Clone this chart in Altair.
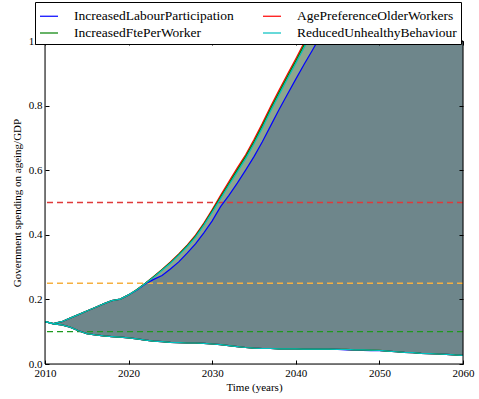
import altair as alt
import pandas as pd

YEARS = list(range(2010, 2061))

SERIES = ["IncreasedLabourParticipation", "IncreasedFtePerWorker",
          "AgePreferenceOlderWorkers", "ReducedUnhealthyBehaviour"]
SERIES_COLORS = ["#0000ff", "#008000", "#ff0000", "#00bfbf"]
DRAW_ORDER = ["IncreasedLabourParticipation", "AgePreferenceOlderWorkers",
              "IncreasedFtePerWorker", "ReducedUnhealthyBehaviour"]

UPPER_ILP = [0.131, 0.125, 0.131, 0.142, 0.153, 0.164, 0.175, 0.186, 0.196, 0.201,
             0.214, 0.229, 0.248, 0.262, 0.274, 0.294, 0.316, 0.343, 0.372, 0.406,
             0.443, 0.487, 0.522, 0.560, 0.600, 0.642, 0.688, 0.738, 0.788, 0.835,
             0.882, 0.928, 0.972, 1.018, 1.065, 1.110, 1.160, 1.210, 1.260, 1.310,
             1.360, 1.410, 1.460, 1.520, 1.580, 1.640, 1.700, 1.760, 1.820, 1.880,
             1.940]
UPPER_APOW = [0.131, 0.125, 0.131, 0.142, 0.153, 0.164, 0.175, 0.186, 0.196, 0.201,
              0.214, 0.231, 0.250, 0.271, 0.293, 0.316, 0.341, 0.368, 0.399, 0.436,
              0.478, 0.522, 0.565, 0.607, 0.648, 0.695, 0.745, 0.798, 0.848, 0.897,
              0.945, 0.995, 1.045, 1.100, 1.150, 1.200, 1.260, 1.320, 1.380, 1.440,
              1.500, 1.560, 1.620, 1.680, 1.750, 1.820, 1.890, 1.960, 2.030, 2.100,
              2.170]
UPPER_IFPW = [0.131, 0.125, 0.131, 0.142, 0.153, 0.164, 0.175, 0.186, 0.196, 0.201,
              0.214, 0.231, 0.250, 0.270, 0.292, 0.314, 0.339, 0.366, 0.396, 0.433,
              0.474, 0.517, 0.559, 0.601, 0.642, 0.688, 0.738, 0.791, 0.841, 0.890,
              0.938, 0.988, 1.038, 1.090, 1.140, 1.190, 1.250, 1.310, 1.370, 1.430,
              1.490, 1.550, 1.610, 1.670, 1.740, 1.810, 1.880, 1.950, 2.020, 2.090,
              2.160]
UPPER_RUB = [0.131, 0.125, 0.131, 0.142, 0.153, 0.164, 0.175, 0.186, 0.196, 0.201,
             0.214, 0.230, 0.249, 0.269, 0.290, 0.312, 0.337, 0.363, 0.393, 0.430,
             0.470, 0.512, 0.554, 0.595, 0.636, 0.682, 0.731, 0.784, 0.834, 0.883,
             0.931, 0.980, 1.030, 1.080, 1.130, 1.180, 1.240, 1.300, 1.360, 1.420,
             1.480, 1.540, 1.600, 1.660, 1.730, 1.800, 1.870, 1.940, 2.010, 2.080,
             2.150]

LOWER_COMMON = [0.131, 0.124, 0.121, 0.114, 0.103, 0.094, 0.090, 0.087, 0.085, 0.083,
                0.081, 0.078, 0.074, 0.071, 0.069, 0.067, 0.066, 0.065, 0.065, 0.064,
                0.062, 0.060, 0.057, 0.054, 0.051, 0.049, 0.048, 0.048, 0.047, 0.047,
                0.047, 0.046, 0.046, 0.046, 0.046, 0.045, 0.045, 0.044, 0.044, 0.043,
                0.042, 0.040, 0.038, 0.036, 0.035, 0.033, 0.032, 0.031, 0.030, 0.028,
                0.027]
LOWER_ILP = [0.131, 0.124, 0.121, 0.114, 0.103, 0.094, 0.090, 0.087, 0.085, 0.083,
             0.081, 0.078, 0.074, 0.071, 0.069, 0.067, 0.066, 0.065, 0.065, 0.064,
             0.062, 0.060, 0.057, 0.054, 0.051, 0.049, 0.048, 0.048, 0.047, 0.047,
             0.047, 0.046, 0.046, 0.046, 0.046, 0.045, 0.044, 0.043, 0.042, 0.041,
             0.041, 0.040, 0.038, 0.036, 0.035, 0.033, 0.032, 0.031, 0.030, 0.028,
             0.027]

HLINE_VALUES = [0.5, 0.25, 0.1]
HLINE_COLORS = ["#e03a3a", "#f5b041", "#1e9a1e"]

X_TICKS = [2010, 2020, 2030, 2040, 2050, 2060]
Y_TICKS = [0.0, 0.2, 0.4, 0.6, 0.8, 1.0]

FONT = "Liberation Serif, Times New Roman, Times, DejaVu Serif, serif"
W, H = 418, 323

uppers = {"IncreasedLabourParticipation": UPPER_ILP, "AgePreferenceOlderWorkers": UPPER_APOW,
          "IncreasedFtePerWorker": UPPER_IFPW, "ReducedUnhealthyBehaviour": UPPER_RUB}
lowers = {"IncreasedLabourParticipation": LOWER_ILP, "AgePreferenceOlderWorkers": LOWER_COMMON,
          "IncreasedFtePerWorker": LOWER_COMMON, "ReducedUnhealthyBehaviour": LOWER_COMMON}

rows = []
for s in SERIES:
    for yr, v in zip(YEARS, uppers[s]):
        rows.append({"year": yr, "value": v, "series": s, "bound": "upper"})
    for yr, v in zip(YEARS, lowers[s]):
        rows.append({"year": yr, "value": v, "series": s, "bound": "lower"})
lines_df = pd.DataFrame(rows)

area_df = pd.DataFrame({"year": YEARS, "lo": LOWER_COMMON,
                        "hi_main": UPPER_ILP, "hi_max": UPPER_APOW})
hline_df = pd.DataFrame({"v": HLINE_VALUES, "c": HLINE_COLORS})

x_scale = alt.Scale(domain=[2010, 2060], nice=False, zero=False)
y_scale = alt.Scale(domain=[0, 1], nice=False, zero=False)

common_axis = dict(offset=-4, tickSize=4, domain=False, grid=False, zindex=1,
                   tickColor="black", labelColor="black", titleColor="black",
                   labelFont=FONT, titleFont=FONT, labelFontSize=11,
                   titleFontSize=11, titleFontWeight="normal", labelFlush=False)

x_axis = alt.Axis(values=X_TICKS, format="d", title="Time (years)", orient="bottom",
                  labelPadding=3, titlePadding=3, **common_axis)
y_axis = alt.Axis(values=Y_TICKS, format=".1f", orient="left",
                  title="Government spending on ageing/GDP",
                  labelPadding=3, titlePadding=6, **common_axis)

strip = alt.Chart(area_df).mark_area(color="#8da68e", clip=True).encode(
    x=alt.X("year:Q", scale=x_scale, axis=x_axis),
    y=alt.Y("lo:Q", scale=y_scale, axis=y_axis),
    y2="hi_max:Q",
)
main = alt.Chart(area_df).mark_area(color="#6e868b", clip=True).encode(
    x=alt.X("year:Q", scale=x_scale, axis=None),
    y=alt.Y("lo:Q", scale=y_scale, axis=None),
    y2="hi_main:Q",
)

hlines = alt.Chart(hline_df).mark_rule(strokeDash=[6, 4], strokeWidth=1.3).encode(
    y=alt.Y("v:Q", scale=y_scale, axis=None),
    color=alt.Color("c:N", scale=None),
)

legend = alt.Legend(orient="none", legendX=-10, legendY=-39, columns=2,
                    symbolType="stroke", symbolSize=324, symbolStrokeWidth=1.2,
                    labelFont=FONT, labelFontSize=13.5, labelOffset=15,
                    labelColor="black", labelLimit=400,
                    columnPadding=26, rowPadding=0, padding=4,
                    strokeColor="black", fillColor="white", title=None, zindex=2)

color_enc = alt.Color("series:N", scale=alt.Scale(domain=SERIES, range=SERIES_COLORS),
                      sort=SERIES, legend=legend)

line_layers = []
for s in DRAW_ORDER:
    line_layers.append(
        alt.Chart(lines_df).transform_filter(alt.datum.series == s)
        .mark_line(strokeWidth=1.2, clip=True).encode(
            x=alt.X("year:Q", scale=x_scale, axis=None),
            y=alt.Y("value:Q", scale=y_scale, axis=None),
            color=color_enc,
            detail="bound:N",
            order="year:Q",
        )
    )

frame = alt.Chart(pd.DataFrame({"f": [0]})).mark_rect(
    fill=None, stroke="black", strokeWidth=1).encode(
    x=alt.value(0), x2=alt.value("width"), y=alt.value(0), y2=alt.value("height"))

other_axis = dict(offset=-4, tickSize=4, domain=False, grid=False, zindex=1,
                  tickColor="black", labels=False, title=None)
ticks_tr = alt.Chart(area_df).mark_point(opacity=0).encode(
    x=alt.X("year:Q", scale=x_scale,
            axis=alt.Axis(values=X_TICKS, orient="top", **other_axis)),
    y=alt.Y("lo:Q", scale=y_scale,
            axis=alt.Axis(values=Y_TICKS, orient="right", **other_axis)),
)

chart = alt.layer(strip, main, hlines, *line_layers, frame, ticks_tr).resolve_axis(
    x="independent", y="independent"
).properties(
    width=W, height=H,
    padding={"left": 45, "top": 41, "right": 16, "bottom": 35},
    autosize=alt.AutoSizeParams(type="none"),
).configure_view(stroke=None).configure(background="white", font=FONT)

chart.save("out.html", embed_options={"renderer": "svg", "actions": False})
